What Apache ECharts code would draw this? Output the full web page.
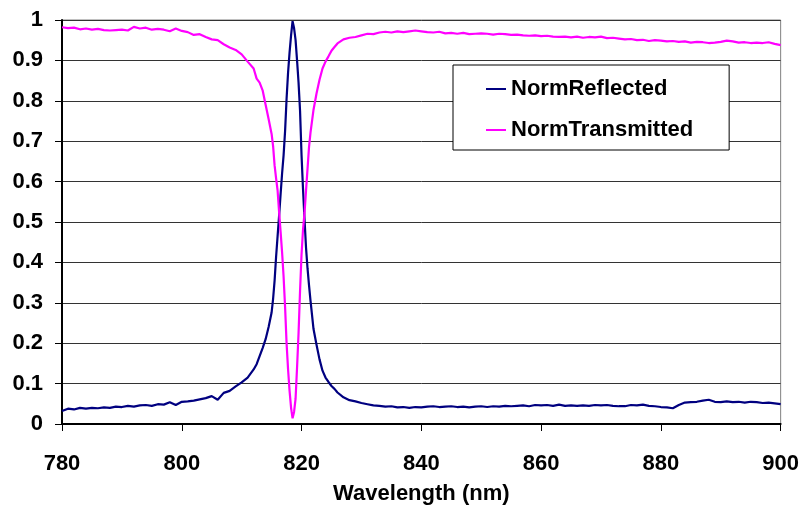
<!DOCTYPE html>
<html>
<head>
<meta charset="utf-8">
<script src="https://cdn.jsdelivr.net/npm/echarts@6/dist/echarts.min.js"></script>
<style>html,body{margin:0;padding:0;background:#fff}#c{width:802px;height:510px}</style>
</head>
<body>
<div id="c"></div>
<script>
const wavelengths = [
  780,781,782,783,784,785,786,787,788,789,
  790,791,792,793,794,795,796,797,798,799,
  800,801,802,803,804,805,806,807,808,809,
  810,811,812,
  812.5,813,813.5,814,814.5,815,815.25,815.5,815.75,816,
  816.25,816.5,816.75,817,817.25,817.5,817.75,818,818.25,818.5,
  818.75,819,819.25,819.5,819.75,820,820.25,820.5,820.75,821,
  821.25,821.5,822,822.5,823,823.5,824,824.5,825,825.5,
  826,827,828,
  829,830,831,832,833,834,835,836,837,838,
  839,840,841,842,843,844,845,846,847,848,
  849,850,851,852,853,854,855,856,857,858,
  859,860,861,862,863,864,865,866,867,868,
  869,870,871,872,873,874,875,876,877,878,
  879,880,881,882,883,884,885,886,887,888,
  889,890,891,892,893,894,895,896,897,898,
  899,900
];
const normReflected = [
  .032,.038,.036,.040,.038,.040,.039,.041,.040,.043,
  .042,.045,.043,.046,.047,.045,.049,.048,.054,.047,
  .055,.056,.058,.061,.064,.069,.060,.077,.082,.093,
  .103,.115,.135,
  .148,.168,.188,.210,.240,.276,.310,.355,.414,.465,
  .515,.568,.620,.665,.725,.805,.870,.920,.962,.997,
  .980,.951,.900,.845,.775,.665,.580,.506,.436,.385,
  .343,.305,.235,.196,.160,.132,.115,.104,.094,.087,
  .078,.066,.059,
  .056,.052,.049,.046,.045,.043,.044,.041,.042,.040,
  .042,.041,.043,.044,.042,.043,.044,.042,.043,.041,
  .043,.044,.042,.044,.043,.045,.044,.045,.046,.044,
  .047,.046,.047,.045,.048,.045,.046,.045,.046,.045,
  .047,.046,.047,.045,.044,.044,.047,.046,.048,.045,
  .044,.042,.041,.039,.047,.053,.054,.055,.058,.060,
  .055,.054,.056,.054,.055,.053,.055,.054,.052,.053,
  .051,.049
];
const normTransmitted = [
  .982,.980,.981,.977,.979,.976,.978,.975,.974,.975,
  .976,.974,.983,.979,.981,.976,.978,.976,.972,.979,
  .973,.970,.963,.965,.958,.952,.950,.940,.932,.926,
  .915,.897,.880,
  .855,.845,.826,.790,.755,.718,.688,.640,.608,.578,
  .525,.476,.425,.365,.290,.200,.135,.082,.040,.014,
  .030,.062,.140,.225,.330,.420,.482,.523,.578,.632,
  .686,.722,.778,.818,.852,.880,.897,.910,.924,.933,
  .942,.952,.956,
  .958,.962,.966,.965,.969,.971,.969,.972,.970,.972,
  .974,.972,.970,.969,.971,.967,.968,.966,.968,.965,
  .966,.967,.966,.964,.966,.965,.963,.964,.962,.961,
  .962,.960,.961,.959,.958,.959,.957,.959,.956,.958,
  .957,.959,.955,.956,.954,.952,.953,.950,.951,.948,
  .950,.949,.947,.948,.946,.947,.944,.946,.945,.943,
  .944,.946,.949,.947,.944,.945,.943,.944,.943,.945,
  .941,.938
];
const seriesNames = ['NormReflected', 'NormTransmitted'];
const xAxisTitle = 'Wavelength (nm)';

const pairs = ys => wavelengths.map((x, i) => [x, ys[i]]);
const font = 'Liberation Sans, Arial, sans-serif';

const chart = echarts.init(document.getElementById('c'), null, {renderer: 'canvas'});
chart.setOption({
  animation: false,
  backgroundColor: '#fff',
  grid: {left: 62, right: 20, top: 20, bottom: 85, show: true, borderColor: '#808080', borderWidth: 1, backgroundColor: 'transparent'},
  xAxis: {
    type: 'value', min: 780, max: 900, interval: 20,
    name: xAxisTitle, nameLocation: 'middle', nameGap: 59,
    nameTextStyle: {fontFamily: font, fontSize: 22, fontWeight: 'bold', color: '#000'},
    axisLine: {show: true, onZero: false, lineStyle: {color: '#000', width: 2}},
    axisTick: {show: true, inside: false, length: 7, lineStyle: {color: '#000', width: 1}},
    axisLabel: {fontFamily: font, fontSize: 22, fontWeight: 'bold', color: '#000', margin: 29},
    splitLine: {show: false}
  },
  yAxis: {
    type: 'value', min: 0, max: 1, interval: 0.1,
    axisLine: {show: true, lineStyle: {color: '#000', width: 2}},
    axisTick: {show: true, inside: false, length: 7, lineStyle: {color: '#000', width: 1}},
    axisLabel: {fontFamily: font, fontSize: 22, fontWeight: 'bold', color: '#000', margin: 19,
      formatter: v => String(+v.toFixed(1))},
    splitLine: {show: true, lineStyle: {color: '#333', width: 1}}
  },
  legend: {
    orient: 'vertical', left: 453, top: 65,
    backgroundColor: '#fff', borderColor: '#000', borderWidth: 1,
    padding: [13, 36, 9, 33], itemGap: 19,
    itemWidth: 20, itemHeight: 2, icon: 'rect',
    textStyle: {fontFamily: font, fontSize: 22, fontWeight: 'bold', color: '#000'},
    data: seriesNames
  },
  series: [
    {name: seriesNames[0], type: 'line', data: pairs(normReflected), showSymbol: false, symbol: 'none',
      lineStyle: {color: '#000080', width: 2.2}, itemStyle: {color: '#000080'}},
    {name: seriesNames[1], type: 'line', data: pairs(normTransmitted), showSymbol: false, symbol: 'none',
      lineStyle: {color: '#FF00FF', width: 2.2}, itemStyle: {color: '#FF00FF'}}
  ]
});
</script>
</body>
</html>
